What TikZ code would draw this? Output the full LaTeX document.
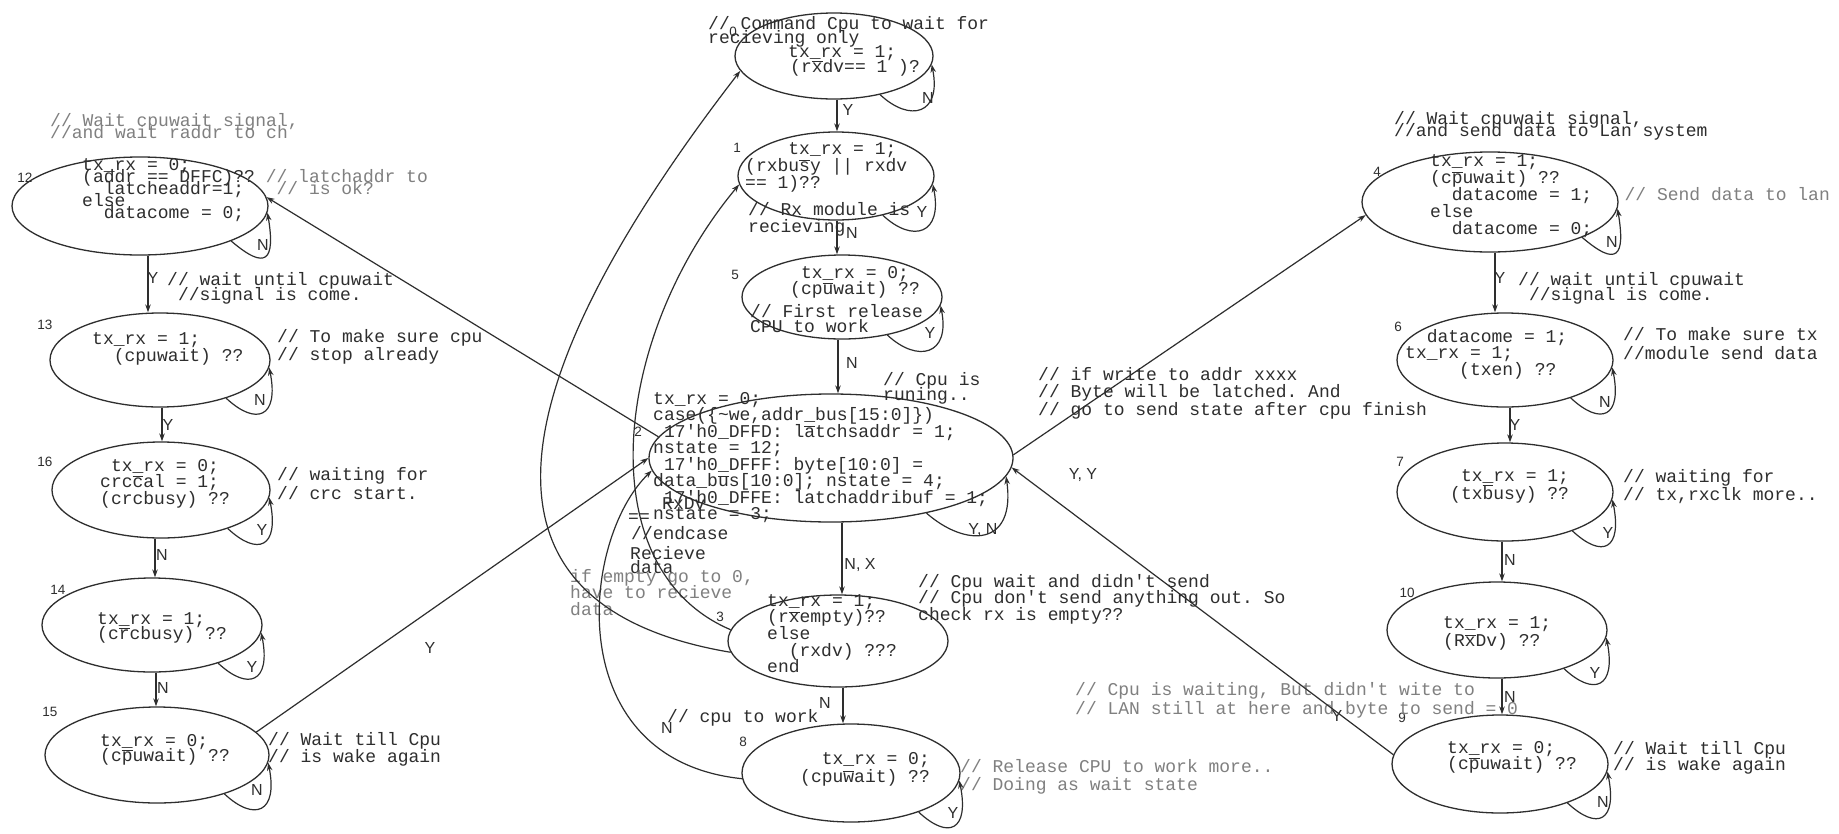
\documentclass[tikz,border=0pt]{standalone}
\usepackage{fontspec}
\setmainfont{Liberation Sans}
\setmonofont{Liberation Mono}
\usetikzlibrary{arrows.meta,shapes.geometric}
\definecolor{ink}{gray}{0.18}
\definecolor{faded}{gray}{0.50}
% overlined character inside code text
\newcommand{\ob}[1]{\ensuremath{\overline{\hbox{#1}}}}
% typewriter font with a fixed line pitch
\newcommand{\cf}[1]{\fontsize{18}{#1}\selectfont\ttfamily\lineskiplimit=-100pt\lineskip=0pt}
% self loop on the lower right of a state
\newcommand{\selfloop}[5]{\draw[edge] (#1.#2) .. controls +(#4) and +(#5) .. (#1.#3);}
\begin{document}
\begin{tikzpicture}[x=1pt,y=-1pt,
  state/.style={draw=ink, line width=1.3pt, ellipse, inner sep=0pt},
  % the given point is (roughly) the baseline of the first line
  code/.style={anchor=north west, yshift=11pt, inner sep=0pt, align=left, text=ink,
    font=\cf{#1}, execute at begin node={\rule{0pt}{15pt}}},
  code/.default=16,
  note/.style={code=#1, text=faded},
  note/.default=16,
  num/.style={font=\fontsize{13.5}{13.5}\selectfont, inner sep=0pt, text=ink},
  lab/.style={font=\fontsize{16}{16}\selectfont, inner sep=0pt, text=ink},
  edge/.style={draw=ink, line width=1.2pt, -{Stealth[length=8pt,width=5.5pt]}},
]
\useasboundingbox (0,0) rectangle (1839,833);
\fill[white] (0,0) rectangle (1839,833);

% ---------------- states ----------------
% left column
\node[state, minimum width=256, minimum height=98] (s12) at (140,206) {};
\node[state, minimum width=220, minimum height=94] (s13) at (160,360) {};
\node[state, minimum width=218, minimum height=96] (s16) at (161,490) {};
\node[state, minimum width=220, minimum height=94] (s14) at (152,625) {};
\node[state, minimum width=224, minimum height=96] (s15) at (157,755) {};
% centre column
\node[state, minimum width=198, minimum height=86] (s0) at (834,56) {};
\node[state, minimum width=196, minimum height=88] (s1) at (836,176) {};
\node[state, minimum width=200, minimum height=84] (s5) at (842,297) {};
\node[state, minimum width=364, minimum height=128] (s2) at (831,458) {};
\node[state, minimum width=220, minimum height=92] (s3) at (838,641) {};
\node[state, minimum width=218, minimum height=98] (s8) at (851,773) {};
% right column
\node[state, minimum width=256, minimum height=100] (s4) at (1490,202) {};
\node[state, minimum width=216, minimum height=94] (s6) at (1505,360) {};
\node[state, minimum width=216, minimum height=98] (s7) at (1505,492) {};
\node[state, minimum width=220, minimum height=96] (s10) at (1497,630) {};
\node[state, minimum width=216, minimum height=98] (s9) at (1500,764) {};

% ---------------- state numbers ----------------
\node[num] (n12) at (25,178) {12};
\node[num] (n13) at (45,325) {13};
\node[num] (n16) at (45,462) {16};
\node[num] (n14) at (58,590) {14};
\node[num] (n15) at (50,712) {15};
\node[num] (n0) at (733,32) {0};
\node[num] (n1) at (737,148) {1};
\node[num] (n5) at (735,275) {5};
\node[num] (n2) at (638,432) {2};
\node[num] (n3) at (720,617) {3};
\node[num] (n8) at (743,742) {8};
\node[num] (n4) at (1377,172) {4};
\node[num] (n6) at (1398,327) {6};
\node[num] (n7) at (1400,462) {7};
\node[num] (n10) at (1407,593) {10};
\node[num] (n9) at (1402,718) {9};

% ---------------- state contents ----------------
\node[code=12] (t12) at (82,169) {tx\_rx = 0;\\(addr == DFFC)?? \textcolor{faded}{// latchaddr to}\\\hphantom{xx}latcheaddr=1;\textcolor{faded}{\ \ \ // is ok?}\\else\\\hphantom{xx}datacome = 0;};
\node[code=17] (t13) at (92,343) {tx\_rx = 1;\\\hphantom{xx}(cpuwait) ??};
\node[code=16.5] (t16) at (100,470) {\hphantom{x}tx\_rx = 0;\\crc\ob{c}al = 1;\\(crcbusy) ??};
\node[code=15] (t14) at (97,623) {tx\_rx = 1;\\(c\ob{r}cbusy) ??};
\node[code=15] (t15) at (100,745) {tx\_rx = 0;\\(c\ob{p}uwait) ??};

\node[code=15] (t0a) at (788,53) {tx\_rx = 1;};
\node[code=15] (t0b) at (790,68) {(r\ob{x}dv== 1 )?};
\node[code=17] (t1) at (745,153) {\hphantom{xxxx}tx\_rx = 1;\\(rxbu\ob{s}y || rxdv\\== 1)??};
\node[code=16] (t5) at (790,277) {\hphantom{x}tx\_rx = 0;\\(cp\ob{u}wait) ??};
\node[code=16.5] (t2) at (653,403) {tx\_rx = 0;\\case(\{\textasciitilde we,addr\_bus[15:0]\})\\\hphantom{x}17'h0\_DFFD: l\ob{a}tchsaddr = 1;\\nstate = 12;\\\hphantom{x}17'h0\_DFFF: byte[10:0] =\\data\_b\ob{u}s[10:0]; nstate = 4;\\\hphantom{x}17'h0\_DFFE: latchaddribuf = 1;\\nstate = 3;};
\node[code=16.7] (t3) at (767,605) {tx\_rx = 1;\\(r\ob{x}empty)??\\else\\\hphantom{xx}(rxdv) ???\\end};
\node[code=18] (t8) at (800,763) {\hphantom{xx}tx\_rx = 0;\\(cpu\ob{w}ait) ??};

\node[code=17] (t4) at (1430,165) {tx\_rx = 1;\\(c\ob{p}uwait) ??\\\hphantom{xx}datacome = 1;\textcolor{faded}{\ \ \ // Send data to lan}\\else\\\hphantom{xx}datacome = 0;};
\node[code=16.5] (t6) at (1405,340) {\hphantom{xx}datacome = 1;\\tx\_rx = 1;\\\hphantom{xxxxx}(txen) ??};
\node[code=18] (t7) at (1450,480) {\hphantom{x}tx\_rx = 1;\\(tx\ob{b}usy) ??};
\node[code=18] (t10) at (1443,627) {tx\_rx = 1;\\(R\ob{x}Dv) ??};
\node[code=16] (t9) at (1447,752) {tx\_rx = 0;\\(c\ob{p}uwait) ??};

% ---------------- comments ----------------
\node[note=12] (c12) at (50,124) {// Wait cpuwait signal,\\//and wait raddr to ch};
\node[code=15] (c1213) at (167,283) {// wait until cpuwait\\\hphantom{x}//signal is come.};
\node[code=18] (c13) at (277,340) {// To make sure cpu\\// stop already};
\node[code=19] (c16) at (277,478) {// waiting for\\// crc start.};
\node[code=17] (c15) at (268,743) {// Wait till Cpu\\// is wake again};

\node[code=14] (c0) at (708,27) {// Command Cpu to wait for\\recieving only};
\node[code=17] (c1) at (748,213) {// Rx module is\\recieving};
\node[code=15] (c5) at (750,315) {// First release\\CPU to work};
\node[code=15] (c2) at (883,383) {// Cpu is\\runing..};
\node[code=15] (c2e) at (631,535) {//endcase};
\node[code=13] (crx) at (662,505) {RxDv};
\node[code=13] (ceq) at (628,518) {==};
\node[code=14] (crd) at (630,557) {Recieve\\\hphantom{}data};
\node[note=16.5] (cemp) at (570,580) {if empty go to 0,\\have to recieve\\data};
\node[code=16.5] (c3) at (918,585) {// Cpu wait and didn't send\\// Cpu don't send anything out. So\\check rx is empty??};
\node[code=15] (c38) at (667,718) {// cpu to work};
\node[note=18] (c8) at (960,770) {// Release CPU to work more..\\// Doing as wait state};

\node[code=17.5] (c24) at (1038,378) {// if write to addr xxxx\\// Byte will be latched. And\\// go to send state after cpu finish};
\node[note=19] (c92) at (1075,693) {// Cpu is waiting, But didn't wite to\\// LAN still at here and byte to send = 0};

\node[code=12] (c4) at (1394,122) {// Wait cpuwait signal,\\//and send data to Lan system};
\node[code=15] (c46) at (1518,283) {// wait until cpuwait\\\hphantom{x}//signal is come.};
\node[code=19] (c6) at (1623,338) {// To make sure tx\\//module send data};
\node[code=18] (c7) at (1623,480) {// waiting for\\// tx,rxclk more..};
\node[code=16] (c9) at (1613,752) {// Wait till Cpu\\// is wake again};

% ---------------- transitions in the columns ----------------
\draw[edge] ([xshift=8]s12.south) -- ([xshift=-12]s13.north);
\draw[edge] ([xshift=2]s13.south) -- ([xshift=1]s16.north);
\draw[edge] ([xshift=-6]s16.south) -- ([xshift=3]s14.north);
\draw[edge] ([xshift=4]s14.south) -- ([xshift=-1]s15.north);

\draw[edge] ([xshift=3]s0.south) -- ([xshift=1]s1.north);
\draw[edge] ([xshift=1]s1.south) -- ([xshift=-5]s5.north);
\draw[edge] ([xshift=-4]s5.south) -- ([xshift=7]s2.north);
\draw[edge] ([xshift=11]s2.south) -- ([xshift=4]s3.north);
\draw[edge] ([xshift=5]s3.south) -- ([xshift=-8]s8.north);

\draw[edge] ([xshift=5]s4.south) -- ([xshift=-10]s6.north);
\draw[edge] ([xshift=5]s6.south) -- ([xshift=5]s7.north);
\draw[edge] ([xshift=-3]s7.south) -- ([xshift=5]s10.north);
\draw[edge] ([xshift=5]s10.south) -- ([xshift=2]s9.north);

% ---------------- self loops ----------------
\selfloop{s12}{-21}{-3}{35,30}{8,48}
\selfloop{s13}{-30}{-4}{30,28}{10,50}
\selfloop{s16}{-30}{-4}{30,28}{10,50}
\selfloop{s14}{-30}{-4}{30,28}{10,50}
\selfloop{s15}{-30}{-4}{30,28}{10,50}
\selfloop{s0}{-40}{-5}{30,28}{10,50}
\selfloop{s1}{-40}{-5}{30,28}{10,50}
\selfloop{s5}{-40}{-5}{30,28}{10,50}
\selfloop{s2}{-30}{-6}{40,35}{10,70}
\selfloop{s8}{-30}{-4}{30,28}{10,50}
\selfloop{s4}{-21}{-3}{35,30}{8,48}
\selfloop{s6}{-30}{-4}{30,28}{10,50}
\selfloop{s7}{-30}{-4}{30,28}{10,50}
\selfloop{s10}{-30}{-4}{30,28}{10,50}
\selfloop{s9}{-30}{-4}{30,28}{10,50}

% ---------------- long transitions ----------------
\draw[edge] (s2.173) -- (s12.4);
\draw[edge] (s15.13) -- (s2.180);
\draw[edge] (s2.1) -- (s4.186);
\draw[edge] (s9.175) -- (s2.-3);
\draw[edge] (s3.186) .. controls (420,600) and (540,330) .. (s0.189);
\draw[edge] (s3.174) .. controls (590,570) and (610,340) .. (s1.185);
\draw[edge] (s8.183) .. controls (560,760) and (580,540) .. (s2.184);

% ---------------- transition labels ----------------
\node[lab] (l1213) at (153,278) {Y};
\node[lab] (l1316) at (168,425) {Y};
\node[lab] (l1614) at (162,555) {N};
\node[lab] (l1415) at (163,688) {N};
\node[lab] (l12) at (263,245) {N};
\node[lab] (l13) at (260,400) {N};
\node[lab] (l16) at (262,530) {Y};
\node[lab] (l14) at (252,667) {Y};
\node[lab] (l15) at (257,790) {N};
\node[lab] (l152) at (430,648) {Y};

\node[lab] (l01) at (848,110) {Y};
\node[lab] (l0) at (928,98) {N};
\node[lab] (l1) at (922,212) {Y};
\node[lab] (l15b) at (852,233) {N};
\node[lab] (l5) at (930,333) {Y};
\node[lab] (l52) at (852,363) {N};
\node[lab] (l2) at (983,530) {Y, N};
\node[lab] (l23) at (860,565) {N, X};
\node[lab] (l38) at (825,703) {N};
\node[lab] (l82) at (667,728) {N};
\node[lab] (l8) at (953,813) {Y};

\node[lab] (l24) at (1083,475) {Y, Y};
\node[lab] (l92) at (1337,716) {Y};

\node[lab] (l4) at (1612,242) {N};
\node[lab] (l46) at (1500,278) {Y};
\node[lab] (l6) at (1605,402) {N};
\node[lab] (l67) at (1515,425) {Y};
\node[lab] (l7) at (1608,533) {Y};
\node[lab] (l710) at (1510,560) {N};
\node[lab] (l10) at (1595,673) {Y};
\node[lab] (l109) at (1510,697) {N};
\node[lab] (l9) at (1603,802) {N};
\end{tikzpicture}
\end{document}
